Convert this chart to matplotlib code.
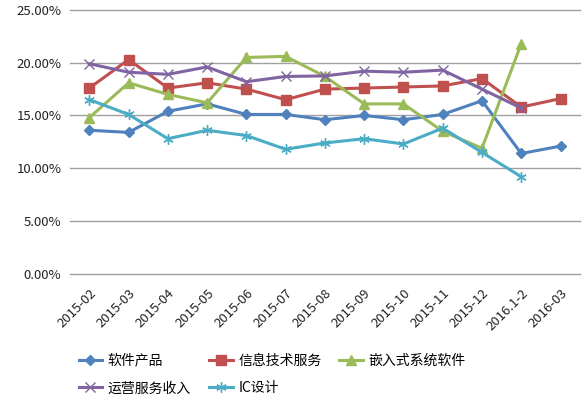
import matplotlib
matplotlib.use("Agg")
import matplotlib.pyplot as plt
from matplotlib.ticker import FuncFormatter

plt.rcParams['font.family'] = ['Noto Sans CJK SC', 'DejaVu Sans']

categories = ["2015-02", "2015-03", "2015-04", "2015-05", "2015-06", "2015-07", "2015-08",
              "2015-09", "2015-10", "2015-11", "2015-12", "2016.1-2", "2016-03"]
software = [13.6, 13.4, 15.4, 16.1, 15.1, 15.1, 14.6, 15.0, 14.6, 15.1, 16.4, 11.4, 12.1]
it_service = [17.6, 20.3, 17.6, 18.1, 17.5, 16.5, 17.5, 17.6, 17.7, 17.8, 18.5, 15.8, 16.6]
embedded = [14.8, 18.1, 17.0, 16.2, 20.5, 20.6, 18.7, 16.1, 16.1, 13.5, 11.9, 21.8, None]
operation = [19.9, 19.1, 18.9, 19.6, 18.2, 18.7, 18.75, 19.2, 19.1, 19.3, 17.5, 15.7, None]
ic_design = [16.5, 15.1, 12.8, 13.6, 13.1, 11.8, 12.4, 12.8, 12.3, 13.8, 11.5, 9.2, None]

series = [
    ("软件产品", software, "#4F81BD", "D", 5.5),
    ("信息技术服务", it_service, "#C0504D", "s", 6.5),
    ("嵌入式系统软件", embedded, "#9BBB59", "^", 6.5),
    ("运营服务收入", operation, "#8064A2", "x", 6.5),
    ("IC设计", ic_design, "#4BACC6", (6, 2, 0), 7.5),
]

fig = plt.figure(figsize=(5.86, 3.98), dpi=100)
ax = fig.add_axes([0.119, 0.312, 0.871, 0.663])

x = list(range(len(categories)))
handles = []
for name, vals, color, marker, ms in series:
    xs = [i for i, v in zip(x, vals) if v is not None]
    ys = [v for v in vals if v is not None]
    h, = ax.plot(xs, ys, color=color, lw=2.2, marker=marker, markersize=ms,
                 markeredgewidth=1.0, markeredgecolor=color, markerfacecolor=color,
                 label=name, zorder=3)
    handles.append(h)

ax.set_xlim(-0.5, len(categories) - 0.5)
ax.set_ylim(0, 25)
ax.set_yticks([0, 5, 10, 15, 20, 25])
ax.yaxis.set_major_formatter(FuncFormatter(lambda v, p: f"{v:.2f}%"))
ax.grid(axis='y', color='#A0A0A0', lw=1.0)
for gl in ax.get_ygridlines():
    gl.set_clip_on(False)
ax.set_axisbelow(True)
for s in ax.spines.values():
    s.set_visible(False)
ax.tick_params(axis='both', length=0, labelsize=9.5, colors='#222222')
ax.tick_params(axis='y', pad=6)
ax.set_xticks(x)
ax.set_xticklabels(categories, rotation=45, ha='right', rotation_mode='anchor')
ax.tick_params(axis='x', pad=9)

order = [0, 3, 1, 4, 2]
fig.legend([handles[i] for i in order], [handles[i].get_label() for i in order],
           loc='upper left', bbox_to_anchor=(0.134, 0.112), ncol=3,
           frameon=False, fontsize=10, handlelength=1.7, columnspacing=1.3,
           handletextpad=0.4, labelspacing=1.0, borderaxespad=0, borderpad=0)

fig.savefig("out.png", dpi=100)
